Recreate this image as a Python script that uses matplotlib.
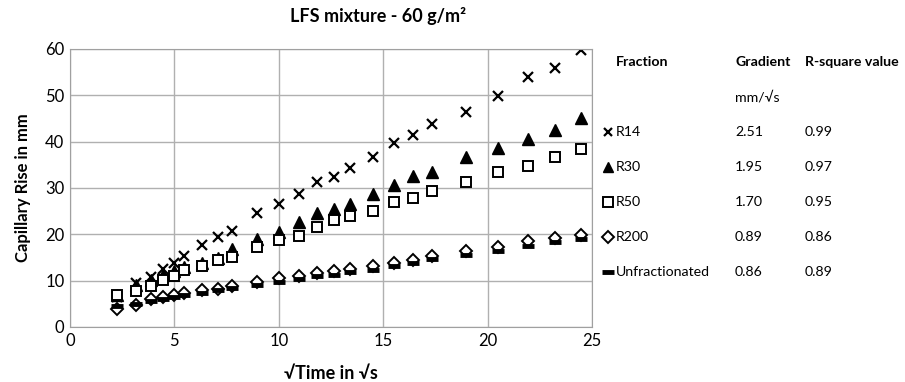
import matplotlib.pyplot as plt
from matplotlib.lines import Line2D

plt.rcParams['font.family'] = ['Lato', 'DejaVu Sans']

# sqrt(time) in sqrt(s)
sqrt_time = [2.24, 3.16, 3.87, 4.47, 5.00, 5.48, 6.32, 7.07, 7.75, 8.94, 10.00, 10.95,
             11.83, 12.65, 13.42, 14.49, 15.49, 16.43, 17.32, 18.97, 20.49, 21.91, 23.24, 24.49]

r14 = [6.5, 9.5, 10.8, 12.5, 13.7, 15.4, 17.6, 19.4, 20.8, 24.6, 26.5, 28.6,
       31.2, 32.3, 34.3, 36.7, 39.6, 41.5, 43.7, 46.4, 49.9, 54.0, 55.8, 59.7]
r30 = [7.0, 9.0, 10.2, 11.3, 12.0, 12.9, 13.8, 14.9, 16.8, 19.0, 20.6, 22.6,
       24.7, 25.5, 26.6, 28.6, 30.6, 32.5, 33.5, 36.7, 38.6, 40.6, 42.6, 45.0]
r50 = [6.8, 7.7, 8.8, 10.1, 11.1, 12.2, 13.1, 14.4, 15.1, 17.3, 18.8, 19.7,
       21.5, 23.0, 23.9, 25.0, 26.9, 27.8, 29.3, 31.2, 33.4, 34.7, 36.7, 38.3]
r200 = [3.9, 4.8, 6.0, 6.5, 6.8, 7.3, 7.9, 8.3, 8.9, 9.6, 10.5, 10.9,
        11.7, 12.0, 12.5, 13.1, 13.8, 14.5, 15.3, 16.5, 17.3, 18.5, 19.2, 19.9]
unfrac = [4.5, 5.0, 5.6, 6.1, 6.5, 6.9, 7.4, 7.9, 8.4, 9.1, 9.8, 10.3,
          10.9, 11.3, 11.8, 12.4, 13.2, 13.8, 14.6, 15.6, 16.4, 17.5, 18.3, 19.0]

fractions = ['R14', 'R30', 'R50', 'R200', 'Unfractionated']
gradients = ['2.51', '1.95', '1.70', '0.89', '0.86']
r_squares = ['0.99', '0.97', '0.95', '0.86', '0.89']

styles = [
    dict(marker='x', ms=7, mew=1.6, mfc='black', mec='black'),
    dict(marker='^', ms=8, mew=1.0, mfc='black', mec='black'),
    dict(marker='s', ms=7.5, mew=1.4, mfc='white', mec='black'),
    dict(marker='D', ms=6.5, mew=1.4, mfc='white', mec='black'),
    dict(marker='_', ms=9, mew=3.5, mfc='black', mec='black'),
]

fig = plt.figure(figsize=(9.05, 3.82), dpi=100)
ax = fig.add_axes([0.0773, 0.144, 0.577, 0.728])

for series, st in zip([r14, r30, r50, r200, unfrac], styles):
    ax.plot(sqrt_time, series, linestyle='none', **st)

ax.set_xlim(0, 25)
ax.set_ylim(0, 60)
ax.set_xticks(range(0, 26, 5))
ax.set_yticks(range(0, 61, 10))
ax.grid(True, color='#b0b0b0', lw=1)
ax.set_axisbelow(True)
for s in ax.spines.values():
    s.set_color('#a0a0a0')
ax.tick_params(length=0, labelsize=12, pad=4)

ax.set_xlabel('√Time in √s', fontsize=13, fontweight='bold', labelpad=12)
ax.set_ylabel('Capillary Rise in mm', fontsize=12, fontweight='bold', labelpad=10)

# side table
W, H = 905, 382
def fx(px):
    return px / W
def fy(py):
    return 1 - py / H

fig.text(fx(378), fy(16), 'LFS mixture - 60 g/m²', fontsize=13, fontweight='bold',
         ha='center', va='center')

fs = 10.2
fig.text(fx(616), fy(62), 'Fraction', fontsize=fs, fontweight='bold', va='center')
fig.text(fx(735), fy(62), 'Gradient', fontsize=fs, fontweight='bold', va='center')
fig.text(fx(805), fy(62), 'R-square value', fontsize=fs, fontweight='bold', va='center')
fig.text(fx(735), fy(97), 'mm/√s', fontsize=fs, va='center')

for i, (name, g, r) in enumerate(zip(fractions, gradients, r_squares)):
    y = 132 + 35 * i
    st = dict(styles[i])
    st['ms'] = st['ms'] * 0.9
    fig.add_artist(Line2D([fx(608)], [fy(y)], linestyle='none', transform=fig.transFigure, **st))
    fig.text(fx(616), fy(y), name, fontsize=fs, va='center')
    fig.text(fx(735), fy(y), g, fontsize=fs, va='center')
    fig.text(fx(805), fy(y), r, fontsize=fs, va='center')

fig.savefig('out.png', dpi=100)
